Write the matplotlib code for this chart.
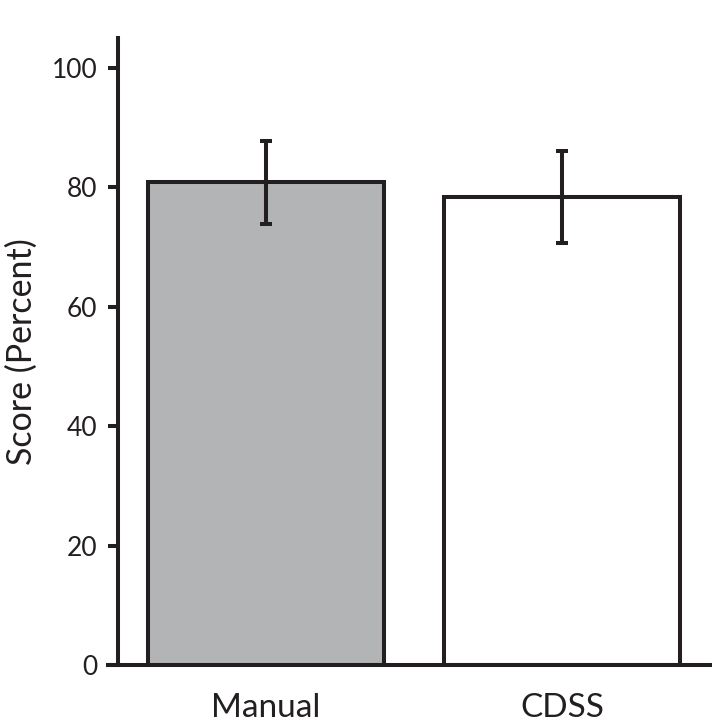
import matplotlib
matplotlib.use("Agg")
import matplotlib.pyplot as plt

# Values
groups = ["Manual", "CDSS"]
scores = [80.8, 78.4]
errors = [7.0, 7.7]
fills = ["#b3b4b6", "#ffffff"]
yticks = [0, 20, 40, 60, 80, 100]

ink = "#231f20"
plt.rcParams['font.family'] = ['Lato', 'DejaVu Sans']

fig = plt.figure(figsize=(7.12, 7.28), dpi=100)
ax = fig.add_axes([0.1657, 0.0865, 0.8313, 0.8615])

x = range(len(groups))
ax.bar(x, scores, width=0.8, color=fills, edgecolor=ink, linewidth=2.9, zorder=2)
ax.errorbar(x, scores, yerr=errors, fmt="none", ecolor=ink, elinewidth=2.9,
            capsize=4, capthick=2.9, zorder=3)

ax.set_xlim(-0.5, 1.5)
ax.set_ylim(0, 105)
ax.set_xticks(list(x))
ax.set_xticklabels(groups, fontsize=24, color=ink)
ax.set_yticks(yticks)
ax.set_yticklabels([str(t) for t in yticks], fontsize=19, color=ink)
ax.set_ylabel("Score (Percent)", fontsize=24.5, color=ink, labelpad=10)

for side in ["top", "right"]:
    ax.spines[side].set_visible(False)
for side in ["left", "bottom"]:
    ax.spines[side].set_linewidth(2.9)
    ax.spines[side].set_color(ink)
ax.spines["bottom"].set_bounds(-0.535, 1.5)

ax.tick_params(axis="y", length=7, width=2.9, color=ink, pad=8)
ax.tick_params(axis="x", length=0, pad=20)

fig.savefig("out.png", dpi=100)
